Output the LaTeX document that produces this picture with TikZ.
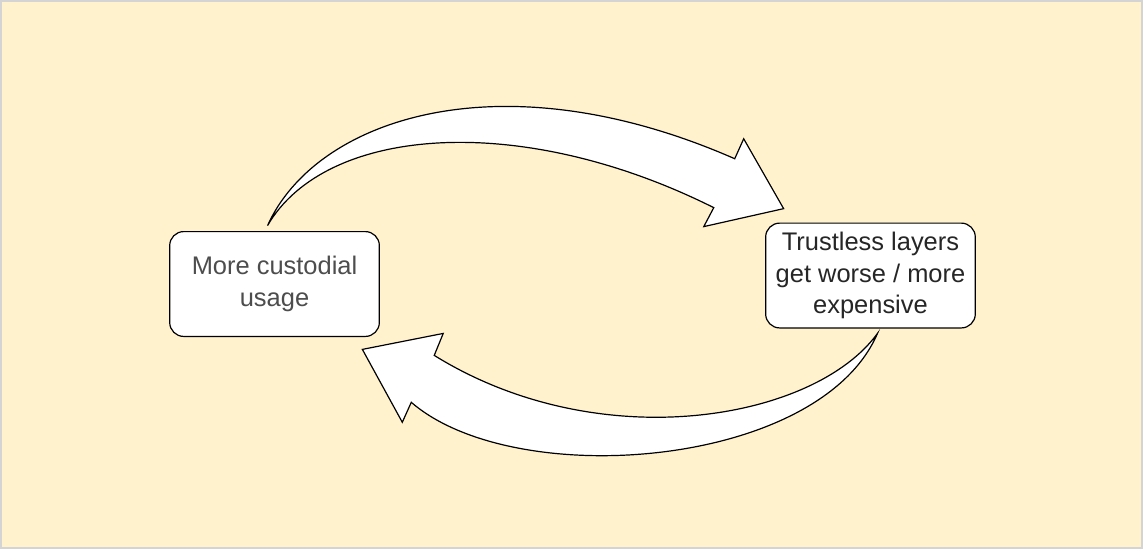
\documentclass[tikz,border=0pt]{standalone}
\usepackage{fontspec}
\setmainfont{Liberation Sans}
\definecolor{bgyellow}{HTML}{FFF2CC}
\definecolor{frame}{HTML}{D4D4D4}
\definecolor{txtleft}{HTML}{4D4D4D}
\definecolor{txtright}{HTML}{262626}
\begin{document}
\begin{tikzpicture}[x=1pt,y=-1pt,
  box/.style={draw=black, line width=1.2pt, fill=white, rounded corners=14pt,
    minimum width=210pt, minimum height=105pt, align=center, inner sep=0pt,
    font=\fontsize{25.5}{31.5}\selectfont},
  blockarrow/.style={draw=black, line width=1.2pt, fill=white, line join=miter}]
\fill[bgyellow] (0,0) rectangle (1143,548);
\draw[frame, line width=2pt] (0,0) rectangle (1143,548);
\useasboundingbox (0,0) rectangle (1143,548);

\node[box, text=txtleft] (left) at (274,283.5) {More custodial\\usage};
\node[box, text=txtright] (right) at (871,275) {Trustless layers\\get worse / more\\expensive};

% top block arrow (left -> right)
\path (267,225) coordinate (t1);
\path (735,158) coordinate (a1) (744,138) coordinate (b1) (784,208) coordinate (p1)
      (704,226) coordinate (b2) (714,207) coordinate (a2);
\draw[blockarrow] (t1) .. controls (315,118) and (500,55) .. (a1) -- (b1) -- (p1) -- (b2) -- (a2)
   .. controls (520,110) and (325,125) .. (t1) -- cycle;

% bottom block arrow (right -> left)
\path (878,333) coordinate (t2) (434,355) coordinate (a3) (443,333) coordinate (b3)
      (362,349) coordinate (p2) (402,422) coordinate (b4) (411,402) coordinate (a4);
\draw[blockarrow] (t2) .. controls (815,420) and (600,458) .. (a3) -- (b3) -- (p2) -- (b4) -- (a4)
   .. controls (515,492) and (820,468) .. (t2) -- cycle;
\end{tikzpicture}
\end{document}
